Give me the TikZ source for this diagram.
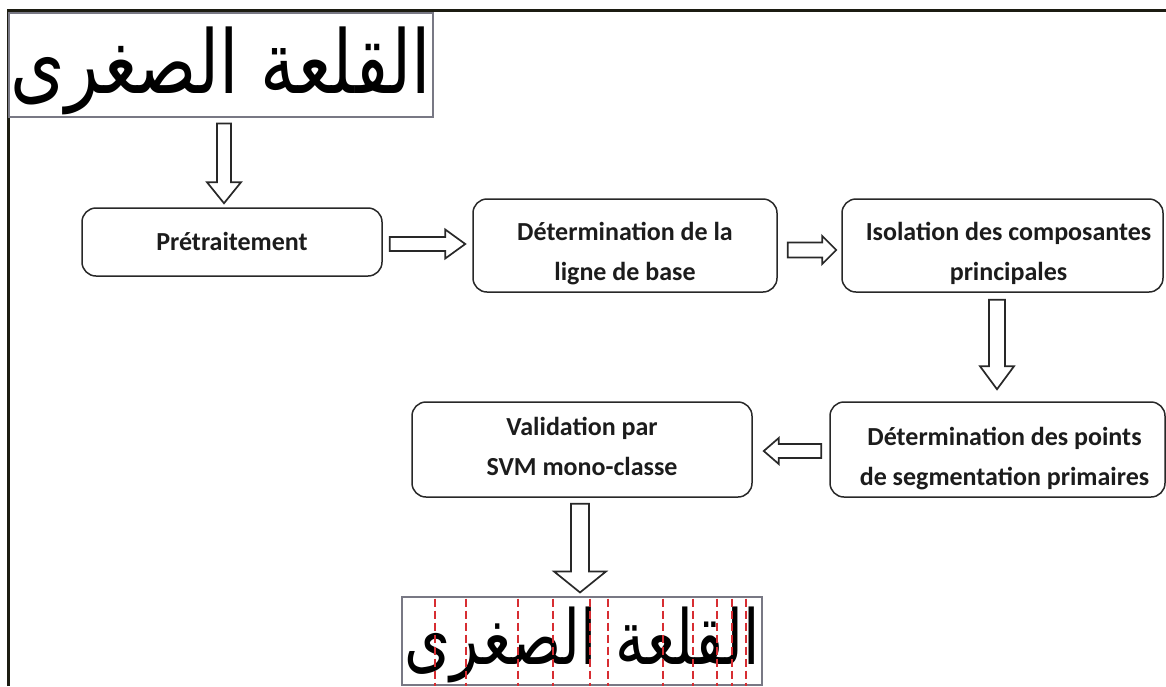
\documentclass[tikz,border=0pt]{standalone}
\usepackage{graphicx}
\usepackage{fontspec}
\setmainfont{Carlito}
\newfontfamily\arabicfont[Script=Arabic]{DejaVu Sans}
\TeXXeTstate=1
\usetikzlibrary{calc}

\definecolor{framecol}{RGB}{28,28,18}
\definecolor{inkcol}{RGB}{28,28,28}
\definecolor{edgecol}{RGB}{40,40,40}
\definecolor{scancol}{RGB}{120,120,132}
\definecolor{cutcol}{RGB}{215,45,50}

% text of a stage box, moved right by #1 and down by #2
\newcommand\boxtext[3]{\raisebox{-#2}[\height][\depth]{\kern#1\kern#1\begin{tabular}{@{}c@{}}#3\end{tabular}}}
% the handwritten word, stretched to #1 x #2 and lowered by #3
\newcommand\scanword[3]{\raisebox{-#3}[\height][\depth]{\resizebox*{#1}{#2}{\arabicfont\beginR القلعة الصغرى\endR}}}

\tikzset{
  stage/.style={draw=edgecol, line width=1.5pt, rounded corners=14pt, fill=white,
    inner sep=0pt, text=inkcol, font=\bfseries\fontsize{26}{40}\selectfont},
  scan/.style={draw=scancol, line width=1.1pt, inner sep=0pt, text=black},
  hollow/.style n args={3}{draw=edgecol, line width=1.7pt, fill=white, line join=miter,
    to path={
      ($(\tikztostart)!#1!90:(\tikztotarget)$) --
      ($(\tikztotarget)!#3!(\tikztostart)!#1!90:(\tikztotarget)$) --
      ($(\tikztotarget)!#3!(\tikztostart)!#2!90:(\tikztotarget)$) --
      (\tikztotarget) --
      ($(\tikztotarget)!#3!(\tikztostart)!#2!-90:(\tikztotarget)$) --
      ($(\tikztotarget)!#3!(\tikztostart)!#1!-90:(\tikztotarget)$) --
      ($(\tikztostart)!#1!-90:(\tikztotarget)$) -- cycle}},
  cut/.style={draw=cutcol, line width=1.6pt, dash pattern=on 8pt off 4pt}
}

\begin{document}
\begin{tikzpicture}[x=1pt,y=-1pt]
\useasboundingbox (0,0) rectangle (1166,686);
\fill[white] (0,0) rectangle (1166,686);

% page frame
\draw[framecol, line width=3pt] (8,686) -- (8,10) -- (1166,10);

% input word image
\node[scan, minimum width=424pt, minimum height=104pt] (img1) at (221,65)
  {\scanword{420pt}{88pt}{6pt}};

% processing stages
\node[stage, minimum width=300pt, minimum height=68pt] (pre) at (232,242)
  {\boxtext{0pt}{0pt}{Prétraitement}};
\node[stage, minimum width=304pt, minimum height=93pt] (det) at (625,245.5)
  {\boxtext{0pt}{7pt}{Détermination de la\\ligne de base}};
\node[stage, minimum width=321pt, minimum height=93pt] (iso) at (1002.5,245.5)
  {\boxtext{6pt}{7pt}{Isolation des composantes\\principales}};
\node[stage, minimum width=335pt, minimum height=95pt] (pts) at (997.5,449.5)
  {\boxtext{7pt}{8pt}{Détermination des points\\de segmentation primaires}};
\node[stage, minimum width=340pt, minimum height=95pt] (val) at (582,449.5)
  {\boxtext{0pt}{-2pt}{Validation par\\SVM mono-classe}};

% segmented word image
\node[scan, minimum width=360pt, minimum height=88pt] (img2) at (582,641)
  {\scanword{355pt}{76pt}{4pt}};
\foreach \cx in {435,466,518,553,590,608,663,693,717,732,746}
  \draw[cut] (\cx,598.5) -- (\cx,686);

% arrow end points
\coordinate (a1s) at ($(img1.south)+(3,6)$);
\coordinate (a1e) at ($(img1.south |- pre.north)+(3,-4)$);
\coordinate (a2s) at ($(pre.east)+(7,2)$);
\coordinate (a2e) at ($(det.west)+(-7,-1.5)$);
\coordinate (a3s) at ($(det.east)+(10,4.5)$);
\coordinate (a3e) at ($(iso.west)+(-5,4.5)$);
\coordinate (a4s) at ($(iso.south)+(-5.5,7)$);
\coordinate (a4e) at ($(pts.north)+(-0.5,-12)$);
\coordinate (a5s) at ($(pts.west)+(-8,1.5)$);
\coordinate (a5e) at ($(val.east)+(11,1.5)$);
\coordinate (a6s) at ($(val.south)+(-2,6)$);
\coordinate (a6e) at ($(img2.north)+(-2,-4)$);

% hollow block arrows
\draw[hollow={7pt}{17pt}{21pt}] (a1s) to (a1e);
\draw[hollow={7pt}{14.5pt}{20pt}] (a2s) to (a2e);
\draw[hollow={7.5pt}{14pt}{14pt}] (a3s) to (a3e);
\draw[hollow={8pt}{17pt}{23pt}] (a4s) to (a4e);
\draw[hollow={7pt}{13pt}{15pt}] (a5s) to (a5e);
\draw[hollow={9pt}{26pt}{21pt}] (a6s) to (a6e);
\end{tikzpicture}
\end{document}
